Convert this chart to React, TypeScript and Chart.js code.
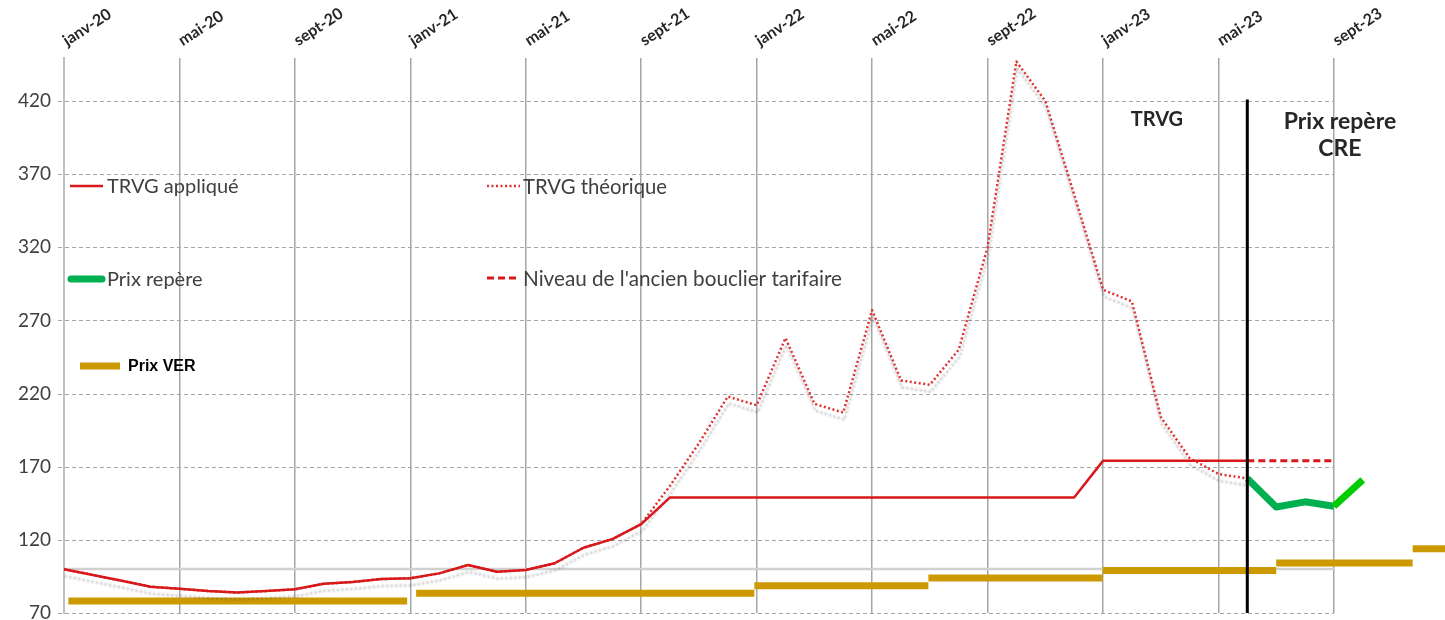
import React, { useEffect, useRef } from "react";
import { Chart, registerables } from "chart.js";
Chart.register(...registerables);

// ---- data ----
const monthLabels = ["janv-20", "mai-20", "sept-20", "janv-21", "mai-21", "sept-21", "janv-22", "mai-22", "sept-22", "janv-23", "mai-23", "sept-23"];
const tickMonths = [0, 4, 8, 12, 16, 20, 24, 28, 32, 36, 40, 44];
const yTicks = [70, 120, 170, 220, 270, 320, 370, 420];

// monthly values, index 0 = janv-20
const trvgApplique = [
  100, 96, 92, 88, 86.5, 85, 84, 85, 86.2, 90, 91.2, 93.2, 93.7, 97.1, 102.8, 98.2, 99.4, 104, 114.6, 120.5, 130.8,
  149, 149, 149, 149, 149, 149, 149, 149, 149, 149, 149, 149, 149, 149, 149,
  174, 174, 174, 174, 174, 174,
];
const trvgTheorique = [
  100, 96, 92, 88, 86.5, 85, 84, 85, 86.2, 90, 91.2, 93.2, 93.7, 97.1, 102.8, 98.2, 99.4, 104, 114.6, 120.5, 130.8,
  157, 186, 218, 212, 258, 213, 207, 277, 229, 226, 250, 320, 447, 420, 356, 291, 283, 204, 176, 165, 162,
];
const bouclierStart = 41;
const bouclier = [174, 174, 174, 174];
const prixRepereStart = 41;
const prixRepere = [162, 142.5, 146, 143, 161];
const verStart = [0.15, 12.2, 23.92, 29.95, 35.99, 42.0, 46.73];
const verEnd = [11.89, 23.92, 29.95, 35.99, 42.0, 46.73, 48.5];
const verValue = [78.2, 83.5, 88.6, 93.9, 99, 104.2, 113.9];
const baseLevel = 100;
const baseLevelEnd = 44;
const separatorMonth = 41;
const separatorTop = 421;
const annotations = [
  { text: "TRVG", x: 37.87, y: 407.6, size: 20 },
  { text: "Prix repère", x: 44.21, y: 405.6, size: 23 },
  { text: "CRE", x: 44.21, y: 387.4, size: 23 },
];

const RED = "#D7191C";
const RED_DOT = "#E03030";
const GOLD = "#CC9900";
const GREEN = "#00B050";
const GREEN2 = "#00CC00";

const legendEntries = [
  { label: "TRVG appliqué", x0: 70, x1: 103, y: 186, tx: 107, font: "20px Lato", color: "#404040" },
  { label: "TRVG théorique", x0: 487, x1: 520, y: 186, tx: 523, font: "20.3px Lato", color: "#404040" },
  { label: "Prix repère", x0: 71, x1: 102, y: 279, tx: 107, font: "20px Lato", color: "#404040" },
  { label: "Niveau de l'ancien bouclier tarifaire", x0: 487, x1: 520, y: 278, tx: 523, font: "20.7px Lato", color: "#404040" },
  { label: "Prix VER", x0: 80, x1: 120, y: 366, tx: 128, font: "bold 16px 'Liberation Sans'", color: "#000000" },
];

const shadowPlugin = {
  id: "shadowPlugin",
  beforeDatasetDraw(chart: any, args: any) {
    const ds = chart.data.datasets[args.index];
    if (ds.shadow) {
      const ctx = chart.ctx;
      ctx.save();
      ctx.shadowColor = "rgba(0,0,0,0.26)";
      ctx.shadowBlur = 2;
      ctx.shadowOffsetX = 1;
      ctx.shadowOffsetY = 7;
    }
  },
  afterDatasetDraw(chart: any, args: any) {
    const ds = chart.data.datasets[args.index];
    if (ds.shadow) chart.ctx.restore();
  },
};

const gridPlugin = {
  id: "hGrid",
  beforeDatasetsDraw(chart: any) {
    const { ctx, chartArea, scales } = chart;
    const x = scales.x;
    const y = scales.y;
    const xEnd = x.getPixelForValue(baseLevelEnd);
    ctx.save();
    ctx.strokeStyle = "#A6A6A6";
    ctx.lineWidth = 1;
    ctx.setLineDash([4, 3]);
    for (const v of yTicks) {
      const py = Math.round(y.getPixelForValue(v)) + 0.5;
      ctx.beginPath();
      ctx.moveTo(chartArea.left - 6, py);
      ctx.lineTo(xEnd, py);
      ctx.stroke();
    }
    ctx.restore();
  },
};

const overlayPlugin = {
  id: "overlay",
  afterDraw(chart: any) {
    const { ctx, scales } = chart;
    ctx.save();
    for (const e of legendEntries) {
      const ds = chart.data.datasets.find((d: any) => d.label === e.label);
      if (!ds) continue;
      ctx.save();
      ctx.strokeStyle = ds.borderColor;
      ctx.lineWidth = ds.borderWidth;
      ctx.setLineDash(ds.borderDash || []);
      ctx.lineCap = ds.legendCap || "butt";
      ctx.beginPath();
      ctx.moveTo(e.x0, e.y);
      ctx.lineTo(e.x1, e.y);
      ctx.stroke();
      ctx.restore();
      ctx.font = e.font;
      ctx.fillStyle = e.color;
      ctx.textAlign = "left";
      ctx.textBaseline = "middle";
      ctx.fillText(e.label, e.tx, e.y + 1);
    }
    ctx.fillStyle = "#262626";
    ctx.textAlign = "center";
    ctx.textBaseline = "middle";
    for (const a of annotations) {
      ctx.font = `bold ${a.size}px Lato`;
      ctx.fillText(a.text, scales.x.getPixelForValue(a.x), scales.y.getPixelForValue(a.y));
    }
    ctx.restore();
  },
};

export default function App() {
  const ref = useRef<HTMLCanvasElement | null>(null);
  useEffect(() => {
    if (!ref.current) return;
    const pts = (start: number, arr: number[]) => arr.map((v, i) => ({ x: start + i, y: v }));
    const datasets: any[] = [];
    datasets.push({
      label: "base",
      data: [{ x: 0, y: baseLevel }, { x: baseLevelEnd, y: baseLevel }],
      borderColor: "#D0D0D0",
      borderWidth: 2.5,
      order: 10,
    });
    verValue.forEach((v, i) => {
      datasets.push({
        label: i === 0 ? "Prix VER" : "Prix VER " + i,
        data: [{ x: verStart[i], y: v }, { x: verEnd[i], y: v }],
        borderColor: GOLD,
        borderWidth: 7,
        order: 9,
      });
    });
    datasets.push({
      label: "TRVG théorique",
      data: pts(0, trvgTheorique),
      borderColor: RED_DOT,
      borderWidth: 2.5,
      borderDash: [2, 2.5],
      shadow: true,
      order: 6,
    });
    datasets.push({
      label: "TRVG appliqué",
      data: pts(0, trvgApplique),
      borderColor: RED,
      borderWidth: 2.5,
      order: 5,
    });
    datasets.push({
      label: "Niveau de l'ancien bouclier tarifaire",
      data: pts(bouclierStart, bouclier),
      borderColor: RED,
      borderWidth: 3,
      borderDash: [7, 4],
      order: 4,
    });
    datasets.push({
      label: "Prix repère",
      data: pts(prixRepereStart, prixRepere),
      borderColor: GREEN,
      legendCap: "round",
      borderWidth: 7,
      segment: {
        borderColor: (c: any) => (c.p0DataIndex >= 3 ? GREEN2 : GREEN),
      },
      order: 3,
    });
    datasets.push({
      label: "separator",
      data: [{ x: separatorMonth, y: 70 }, { x: separatorMonth, y: separatorTop }],
      borderColor: "#000000",
      borderWidth: 3,
      order: 1,
    });
    datasets.forEach((d) => {
      d.pointRadius = 0;
      d.pointHoverRadius = 0;
      d.fill = false;
      d.tension = 0;
      d.borderCapStyle = "butt";
      d.borderJoinStyle = "round";
    });

    Chart.defaults.font.family = "Lato";
    const chart = new Chart(ref.current, {
      type: "line",
      data: { datasets },
      options: {
        animation: false,
        responsive: true,
        maintainAspectRatio: false,
        parsing: false as any,
        layout: { padding: { left: 0, right: 0, top: 0, bottom: 7 } },
        plugins: { legend: { display: false }, tooltip: { enabled: false } },
        scales: {
          x: {
            type: "linear",
            position: "top",
            min: 0,
            max: 47.85,
            afterBuildTicks: (s: any) => {
              s.ticks = tickMonths.map((v) => ({ value: v }));
            },
            afterFit: (s: any) => {
              s.height = 58;
              s.paddingLeft = 0;
              s.paddingRight = 0;
            },
            ticks: {
              autoSkip: false,
              minRotation: 33,
              maxRotation: 33,
              padding: 8,
              labelOffset: 11,
              color: "#262626",
              font: { family: "Lato", size: 16, weight: "bold" },
              callback: (v: any) => {
                const i = tickMonths.indexOf(Number(v));
                return i >= 0 ? monthLabels[i] : "";
              },
            },
            grid: { color: "#A6A6A6", lineWidth: 1.5, drawTicks: false },
            border: { display: false },
          },
          y: {
            type: "linear",
            min: 70,
            max: 449.4,
            afterBuildTicks: (s: any) => {
              s.ticks = yTicks.map((v) => ({ value: v }));
            },
            afterFit: (s: any) => {
              s.width = 64;
              s.paddingTop = 0;
              s.paddingBottom = 0;
            },
            ticks: {
              padding: 0,
              color: "#404040",
              font: { family: "Lato", size: 19 },
            },
            grid: { display: true, drawOnChartArea: false, drawTicks: true, tickLength: 13, tickColor: "rgba(0,0,0,0)" },
            border: { display: true, color: "#BFBFBF", width: 2 },
          },
        },
      },
      plugins: [gridPlugin, shadowPlugin, overlayPlugin],
    });
    return () => chart.destroy();
  }, []);
  return (
    <div style={{ position: "fixed", left: 0, top: 0, width: 1445, height: 620, background: "#fff" }}>
      <canvas ref={ref} />
    </div>
  );
}
